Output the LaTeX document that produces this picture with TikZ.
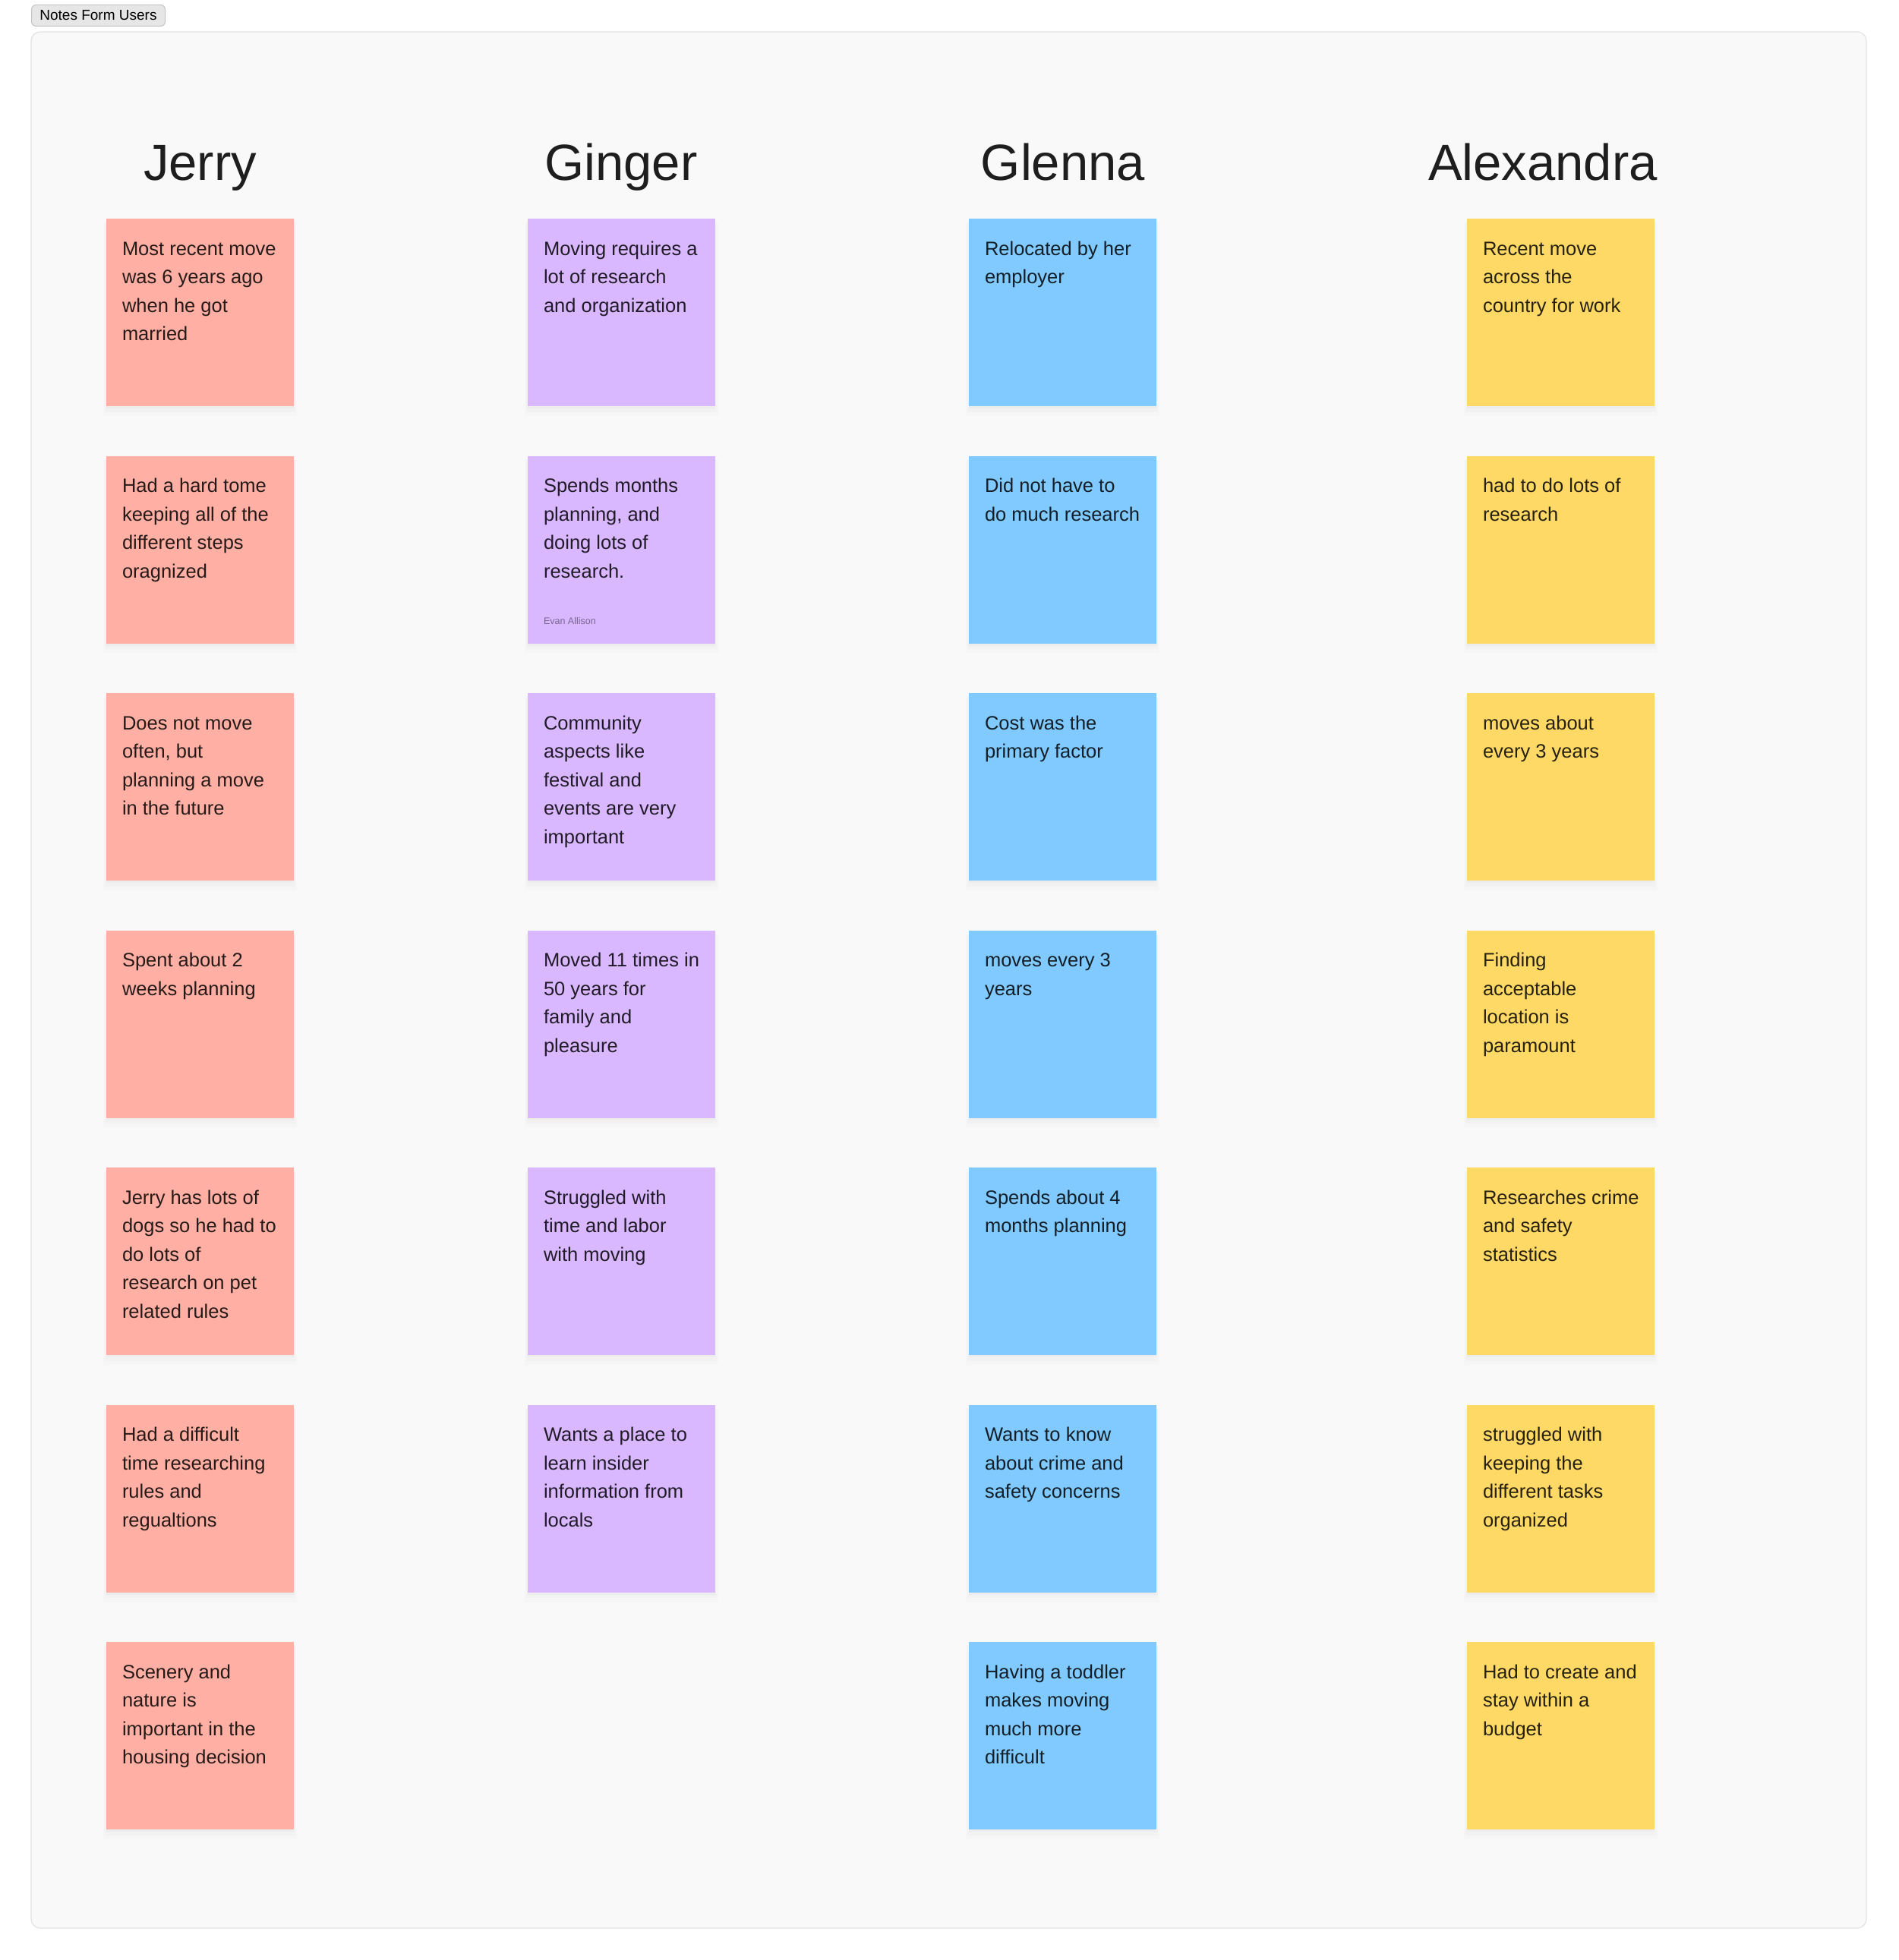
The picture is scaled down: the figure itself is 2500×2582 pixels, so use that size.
\documentclass[tikz,border=0pt]{standalone}
\usepackage{fontspec}
\setmainfont{Liberation Sans}
\usetikzlibrary{shadows}
\definecolor{salmon}{HTML}{FFAFA3}
\definecolor{lilac}{HTML}{D9B8FF}
\definecolor{skyb}{HTML}{80CAFF}
\definecolor{sunny}{HTML}{FFD966}
\definecolor{framebg}{HTML}{F9F9F9}
\definecolor{frameline}{HTML}{E3E3E3}
\definecolor{labelbg}{HTML}{E6E6E6}
\definecolor{labelline}{HTML}{C4C4C4}
\definecolor{ink}{HTML}{1E1E1E}
\newcommand\mknote[5]{%
  \node[note, fill=#4] (#1) at ({#2+123.5},{288+312.5*#3+123.5}) {};
  \node[notetext] (#1t) at ([xshift=21pt,yshift=-18pt]#1.north west) {\rule{0pt}{30pt}#5};
}
\begin{document}
\begin{tikzpicture}[x=1pt,y=-1pt,
  note/.style={rectangle, minimum width=247pt, minimum height=247pt, inner sep=0pt, draw=none,
    drop shadow={opacity=0.025, shadow xshift=0pt, shadow yshift=-9pt, shadow scale=1.03},
    drop shadow={opacity=0.03, shadow xshift=0pt, shadow yshift=-6pt, shadow scale=1.015},
    drop shadow={opacity=0.035, shadow xshift=0pt, shadow yshift=-3pt, shadow scale=1.0}},
  notetext/.style={anchor=north west, inner sep=0pt, align=left, text=black, text opacity=0.85,
    font={\fontsize{25.5}{37.5}\selectfont}},
  heading/.style={anchor=base, inner sep=0pt, text=ink, font={\fontsize{67}{70}\selectfont}},
  labelbox/.style={anchor=north west, rounded corners=6pt, fill=labelbg, draw=labelline, line width=1pt,
    minimum width=176pt, minimum height=28pt, inner xsep=10pt, inner ysep=0pt, text=black,
    font={\fontsize{19}{22}\selectfont}},
  author/.style={anchor=base west, inner sep=0pt, text=black, text opacity=0.45,
    font={\fontsize{12.5}{14}\selectfont}}
]
\useasboundingbox (0,0) rectangle (2500,2582);
\fill[white] (0,0) rectangle (2500,2582);
\draw[rounded corners=12pt, fill=framebg, draw=frameline, line width=1.2pt] (41,42) rectangle (2458,2540);
\node[labelbox] (lbl) at (41,6) {Notes Form Users};

\node[heading] (hjerry) at (263.5,238) {Jerry};
\node[heading] (hginger) at (818,238) {Ginger};
\node[heading] (hglenna) at (1400,238) {Glenna};
\node[heading] (halex) at (2032,238) {Alexandra};

% Jerry
\mknote{j1}{140}{0}{salmon}{Most recent move\\was 6 years ago\\when he got\\married}
\mknote{j2}{140}{1}{salmon}{Had a hard tome\\keeping all of the\\different steps\\oragnized}
\mknote{j3}{140}{2}{salmon}{Does not move\\often, but\\planning a move\\in the future}
\mknote{j4}{140}{3}{salmon}{Spent about 2\\weeks planning}
\mknote{j5}{140}{4}{salmon}{Jerry has lots of\\dogs so he had to\\do lots of\\research on pet\\related rules}
\mknote{j6}{140}{5}{salmon}{Had a difficult\\time researching\\rules and\\regualtions}
\mknote{j7}{140}{6}{salmon}{Scenery and\\nature is\\important in the\\housing decision}

% Ginger
\mknote{g1}{695}{0}{lilac}{Moving requires a\\lot of research\\and organization}
\mknote{g2}{695}{1}{lilac}{Spends months\\planning, and\\doing lots of\\research.}
\node[author] (g2a) at ([xshift=21pt,yshift=-222pt]g2.north west) {Evan Allison};
\mknote{g3}{695}{2}{lilac}{Community\\aspects like\\festival and\\events are very\\important}
\mknote{g4}{695}{3}{lilac}{Moved 11 times in\\50 years for\\family and\\pleasure}
\mknote{g5}{695}{4}{lilac}{Struggled with\\time and labor\\with moving}
\mknote{g6}{695}{5}{lilac}{Wants a place to\\learn insider\\information from\\locals}

% Glenna
\mknote{n1}{1276}{0}{skyb}{Relocated by her\\employer}
\mknote{n2}{1276}{1}{skyb}{Did not have to\\do much research}
\mknote{n3}{1276}{2}{skyb}{Cost was the\\primary factor}
\mknote{n4}{1276}{3}{skyb}{moves every 3\\years}
\mknote{n5}{1276}{4}{skyb}{Spends about 4\\months planning}
\mknote{n6}{1276}{5}{skyb}{Wants to know\\about crime and\\safety concerns}
\mknote{n7}{1276}{6}{skyb}{Having a toddler\\makes moving\\much more\\difficult}

% Alexandra
\mknote{a1}{1932}{0}{sunny}{Recent move\\across the\\country for work}
\mknote{a2}{1932}{1}{sunny}{had to do lots of\\research}
\mknote{a3}{1932}{2}{sunny}{moves about\\every 3 years}
\mknote{a4}{1932}{3}{sunny}{Finding\\acceptable\\location is\\paramount}
\mknote{a5}{1932}{4}{sunny}{Researches crime\\and safety\\statistics}
\mknote{a6}{1932}{5}{sunny}{struggled with\\keeping the\\different tasks\\organized}
\mknote{a7}{1932}{6}{sunny}{Had to create and\\stay within a\\budget}
\end{tikzpicture}
\end{document}
